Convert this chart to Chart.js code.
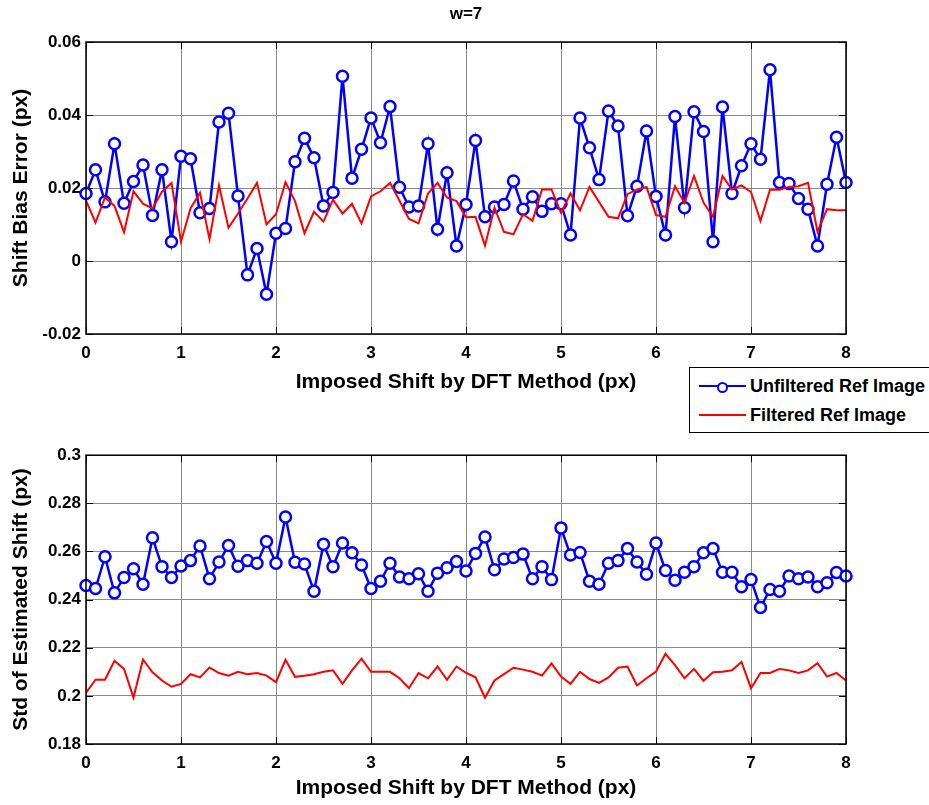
<!DOCTYPE html>
<html>
<head>
<meta charset="utf-8">
<script src="https://cdn.jsdelivr.net/npm/chart.js@4/dist/chart.umd.min.js"></script>
<style>
  html, body { margin: 0; padding: 0; background: #fff; }
  #wrap { position: relative; width: 929px; height: 805px; overflow: hidden; font-family: "Liberation Sans", Arial, sans-serif; }
  #topBox { position: absolute; left: 0; top: 0; width: 929px; height: 400px; }
  #botBox { position: absolute; left: 0; top: 440px; width: 929px; height: 365px; }
  #title { position: absolute; left: 366px; width: 200px; top: 3px; text-align: center; font-weight: bold; font-size: 17px; line-height: 22px; color: #000; }
  #legend { position: absolute; left: 689px; top: 367px; width: 250px; height: 66px; border: 1px solid #000; background: #fff; box-sizing: border-box; }
  .row { position: absolute; left: 0; height: 24px; width: 100%; }
  .row .sample { position: absolute; left: 9px; width: 47px; top: 11px; height: 0; }
  .row .txt { position: absolute; left: 60px; top: 0; font-weight: bold; font-size: 18px; line-height: 24px; color: #000; white-space: nowrap; }
  .mk { position: absolute; left: 18px; top: -5px; width: 7px; height: 7px; border: 2px solid #0000ff; border-radius: 50%; background: #fff; }
</style>
</head>
<body>
<div id="wrap">
  <div id="topBox"><canvas id="biasChart" width="929" height="400"></canvas></div>
  <div id="botBox"><canvas id="stdChart" width="929" height="365"></canvas></div>
  <div id="title">w=7</div>
  <div id="legend">
    <div class="row" style="top:6px">
      <div class="sample" style="border-top:2.5px solid #0000ff"><div class="mk"></div></div>
      <div class="txt">Unfiltered Ref Image</div>
    </div>
    <div class="row" style="top:35px">
      <div class="sample" style="border-top:2px solid #ff0000"></div>
      <div class="txt">Filtered Ref Image</div>
    </div>
  </div>
</div>
<script>
// Imposed shift (px)
const shifts = [
  0.0, 0.1, 0.2, 0.3, 0.4, 0.5, 0.6, 0.7, 0.8, 0.9,
  1.0, 1.1, 1.2, 1.3, 1.4, 1.5, 1.6, 1.7, 1.8, 1.9,
  2.0, 2.1, 2.2, 2.3, 2.4, 2.5, 2.6, 2.7, 2.8, 2.9,
  3.0, 3.1, 3.2, 3.3, 3.4, 3.5, 3.6, 3.7, 3.8, 3.9,
  4.0, 4.1, 4.2, 4.3, 4.4, 4.5, 4.6, 4.7, 4.8, 4.9,
  5.0, 5.1, 5.2, 5.3, 5.4, 5.5, 5.6, 5.7, 5.8, 5.9,
  6.0, 6.1, 6.2, 6.3, 6.4, 6.5, 6.6, 6.7, 6.8, 6.9,
  7.0, 7.1, 7.2, 7.3, 7.4, 7.5, 7.6, 7.7, 7.8, 7.9,
  8.0
];

// Shift bias error (px)
const biasUnfiltered = [
  0.0185, 0.0250, 0.0162, 0.0321, 0.0158, 0.0218, 0.0263, 0.0125, 0.0250, 0.0053,
  0.0287, 0.0280, 0.0132, 0.0144, 0.0381, 0.0405, 0.0178, -0.0038, 0.0034, -0.0091,
  0.0076, 0.0089, 0.0272, 0.0336, 0.0283, 0.0151, 0.0188, 0.0506, 0.0227, 0.0306,
  0.0392, 0.0324, 0.0423, 0.0202, 0.0148, 0.0151, 0.0321, 0.0087, 0.0242, 0.0041,
  0.0155, 0.0330, 0.0121, 0.0148, 0.0155, 0.0219, 0.0142, 0.0176, 0.0136, 0.0157,
  0.0157, 0.0071, 0.0392, 0.0310, 0.0223, 0.0411, 0.0370, 0.0124, 0.0205, 0.0356,
  0.0177, 0.0071, 0.0396, 0.0146, 0.0409, 0.0355, 0.0053, 0.0422, 0.0185, 0.0261,
  0.0321, 0.0279, 0.0524, 0.0215, 0.0212, 0.0171, 0.0142, 0.0041, 0.0210, 0.0339,
  0.0215
];
const biasFiltered = [
  0.0166, 0.0105, 0.0174, 0.0151, 0.0079, 0.0191, 0.0157, 0.0144, 0.0190, 0.0214,
  0.0053, 0.0144, 0.0187, 0.0060, 0.0207, 0.0091, 0.0130, 0.0171, 0.0214, 0.0100,
  0.0128, 0.0216, 0.0164, 0.0076, 0.0135, 0.0108, 0.0168, 0.0130, 0.0157, 0.0103,
  0.0177, 0.0191, 0.0214, 0.0165, 0.0115, 0.0103, 0.0185, 0.0214, 0.0174, 0.0164,
  0.0120, 0.0121, 0.0042, 0.0146, 0.0080, 0.0073, 0.0128, 0.0110, 0.0196, 0.0196,
  0.0132, 0.0185, 0.0139, 0.0203, 0.0162, 0.0121, 0.0117, 0.0183, 0.0196, 0.0203,
  0.0126, 0.0121, 0.0205, 0.0159, 0.0233, 0.0160, 0.0121, 0.0233, 0.0196, 0.0207,
  0.0189, 0.0110, 0.0195, 0.0195, 0.0203, 0.0205, 0.0214, 0.0080, 0.0142, 0.0139,
  0.0139
];

// Standard deviation of the estimated shift (px)
const stdUnfiltered = [
  0.2459, 0.2446, 0.2578, 0.2428, 0.2492, 0.2528, 0.2464, 0.2657, 0.2537, 0.2492,
  0.2540, 0.2562, 0.2623, 0.2487, 0.2556, 0.2625, 0.2539, 0.2562, 0.2551, 0.2641,
  0.2551, 0.2743, 0.2555, 0.2548, 0.2435, 0.2630, 0.2537, 0.2635, 0.2595, 0.2544,
  0.2446, 0.2476, 0.2551, 0.2494, 0.2487, 0.2507, 0.2435, 0.2510, 0.2532, 0.2558,
  0.2519, 0.2592, 0.2660, 0.2524, 0.2569, 0.2575, 0.2589, 0.2487, 0.2537, 0.2483,
  0.2698, 0.2585, 0.2596, 0.2476, 0.2464, 0.2551, 0.2562, 0.2612, 0.2556, 0.2505,
  0.2635, 0.2521, 0.2480, 0.2514, 0.2537, 0.2595, 0.2612, 0.2514, 0.2514, 0.2453,
  0.2483, 0.2367, 0.2442, 0.2435, 0.2498, 0.2487, 0.2494, 0.2453, 0.2470, 0.2513,
  0.2498
];
const stdFiltered = [
  0.2013, 0.2067, 0.2067, 0.2146, 0.2112, 0.1993, 0.2151, 0.2098, 0.2064, 0.2038,
  0.2050, 0.2090, 0.2077, 0.2118, 0.2095, 0.2084, 0.2100, 0.2090, 0.2095, 0.2084,
  0.2057, 0.2150, 0.2079, 0.2084, 0.2090, 0.2100, 0.2106, 0.2050, 0.2106, 0.2155,
  0.2100, 0.2100, 0.2100, 0.2073, 0.2032, 0.2095, 0.2073, 0.2122, 0.2067, 0.2122,
  0.2096, 0.2077, 0.1992, 0.2064, 0.2090, 0.2117, 0.2109, 0.2100, 0.2084, 0.2135,
  0.2080, 0.2050, 0.2100, 0.2070, 0.2054, 0.2077, 0.2117, 0.2122, 0.2043, 0.2073,
  0.2101, 0.2175, 0.2128, 0.2073, 0.2112, 0.2063, 0.2098, 0.2100, 0.2106, 0.2141,
  0.2032, 0.2095, 0.2095, 0.2112, 0.2106, 0.2095, 0.2106, 0.2136, 0.2080, 0.2095,
  0.2064
];

const xTicks = [0, 1, 2, 3, 4, 5, 6, 7, 8];
const biasTicks = [-0.02, 0, 0.02, 0.04, 0.06];
const stdTicks = [0.18, 0.2, 0.22, 0.24, 0.26, 0.28, 0.3];

const FONT = "'Liberation Sans', Arial, sans-serif";
const pairs = (ys) => shifts.map((x, i) => ({ x, y: ys[i] }));
const fmt = (v) => String(parseFloat(Number(v).toFixed(2)));

// Box around the plot area with small inward ticks on all four sides
const boxFrame = {
  id: 'boxFrame',
  afterDraw(chart) {
    const { ctx, chartArea: a, scales } = chart;
    const tl = 7;
    ctx.save();
    ctx.strokeStyle = '#000';
    ctx.lineWidth = 1.5;
    ctx.strokeRect(a.left, a.top, a.right - a.left, a.bottom - a.top);
    ctx.lineWidth = 1;
    ctx.beginPath();
    scales.x.ticks.forEach(t => {
      const px = Math.round(scales.x.getPixelForValue(t.value)) + 0.5;
      ctx.moveTo(px, a.bottom); ctx.lineTo(px, a.bottom - tl);
      ctx.moveTo(px, a.top); ctx.lineTo(px, a.top + tl);
    });
    scales.y.ticks.forEach(t => {
      const py = Math.round(scales.y.getPixelForValue(t.value)) + 0.5;
      ctx.moveTo(a.left, py); ctx.lineTo(a.left + tl, py);
      ctx.moveTo(a.right, py); ctx.lineTo(a.right - tl, py);
    });
    ctx.stroke();
    ctx.restore();
  }
};

function makeChart(canvasId, opts) {
  return new Chart(document.getElementById(canvasId), {
    type: 'line',
    data: {
      datasets: [
        {
          label: 'Filtered Ref Image',
          data: pairs(opts.filtered),
          borderColor: '#ff0000',
          borderWidth: 2,
          pointRadius: 0,
          tension: 0,
          order: 0,
          clip: false
        },
        {
          label: 'Unfiltered Ref Image',
          data: pairs(opts.unfiltered),
          borderColor: '#0000ff',
          borderWidth: 2.5,
          pointStyle: 'circle',
          pointRadius: 5.5,
          pointBorderWidth: 2.5,
          pointBorderColor: '#0000ff',
          pointBackgroundColor: '#ffffff',
          tension: 0,
          order: 1,
          clip: false
        }
      ]
    },
    options: {
      responsive: false,
      animation: false,
      devicePixelRatio: 1,
      layout: { padding: { left: 0, right: 83, top: opts.padTop, bottom: 0 } },
      plugins: {
        legend: { display: false },
        tooltip: { enabled: false },
        title: { display: false }
      },
      scales: {
        x: {
          type: 'linear',
          min: 0, max: 8,
          afterBuildTicks: (s) => { s.ticks = xTicks.map(v => ({ value: v })); },
          afterFit: (s) => { s.height = opts.xAxisHeight; },
          grid: { color: '#8a8a8a', lineWidth: 1, drawTicks: false },
          border: { display: false },
          ticks: {
            color: '#000', padding: 9,
            font: { family: FONT, size: 17, weight: 'bold' },
            callback: (v) => String(v)
          },
          title: {
            display: true,
            text: 'Imposed Shift by DFT Method (px)',
            color: '#000',
            font: { family: FONT, size: 21, weight: 'bold' },
            padding: { top: 0, bottom: opts.xTitlePad }
          }
        },
        y: {
          type: 'linear',
          min: opts.yTicks[0], max: opts.yTicks[opts.yTicks.length - 1],
          afterBuildTicks: (s) => { s.ticks = opts.yTicks.map(v => ({ value: v })); },
          afterFit: (s) => { s.width = 86; },
          grid: { color: '#8a8a8a', lineWidth: 1, drawTicks: false },
          border: { display: false },
          ticks: {
            color: '#000', padding: 5,
            font: { family: FONT, size: 17, weight: 'bold' },
            callback: fmt
          },
          title: {
            display: true,
            text: opts.yTitle,
            color: '#000',
            font: { family: FONT, size: 21, weight: 'bold' },
            padding: { top: 9, bottom: 0 }
          }
        }
      }
    },
    plugins: [boxFrame]
  });
}

makeChart('biasChart', {
  unfiltered: biasUnfiltered,
  filtered: biasFiltered,
  yTicks: biasTicks,
  yTitle: 'Shift Bias Error (px)',
  padTop: 42,
  xAxisHeight: 66,
  xTitlePad: 5
});

makeChart('stdChart', {
  unfiltered: stdUnfiltered,
  filtered: stdFiltered,
  yTicks: stdTicks,
  yTitle: 'Std of Estimated Shift (px)',
  padTop: 11,
  xAxisHeight: 61,
  xTitlePad: 4
});
</script>
</body>
</html>
